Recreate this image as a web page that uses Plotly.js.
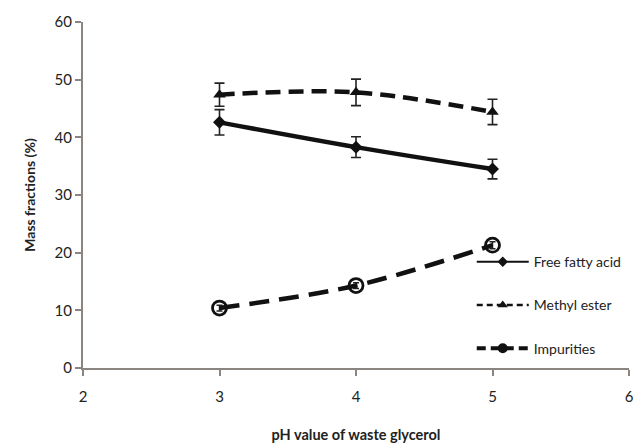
<!DOCTYPE html>
<html><head><meta charset="utf-8">
<script src="https://cdn.plot.ly/plotly-3.0.1.min.js"></script>
<style>html,body{margin:0;padding:0;background:#fff}#chart{width:637px;height:446px}</style>
</head><body><div id="chart"></div>
<script>
const ph = [3, 4, 5];
const ffa = [42.6, 38.3, 34.5];
const ffaErr = [2.2, 1.8, 1.7];
const me = [47.4, 47.8, 44.4];
const meErr = [2.0, 2.3, 2.2];
const imp = [10.4, 14.3, 21.3];
const impErr = [0.5, 0.5, 0.6];
const names = ['Free fatty acid', 'Methyl ester', 'Impurities'];

const C = '#111';
const traces = [
  {x: ph, y: ffa, name: names[0], mode: 'lines+markers', showlegend: false,
   line: {color: C, width: 4.5, shape: 'spline'},
   marker: {symbol: 'diamond', size: 10, color: C},
   error_y: {type: 'data', array: ffaErr, visible: true, color: '#222', thickness: 1.6, width: 5}},
  {x: ph, y: me, name: names[1], mode: 'lines+markers', showlegend: false,
   line: {color: C, width: 4.5, dash: '15px,8px', shape: 'spline'},
   marker: {symbol: 'triangle-up', size: 11, color: C},
   error_y: {type: 'data', array: meErr, visible: true, color: '#222', thickness: 1.6, width: 5}},
  {x: ph, y: imp, name: names[2], mode: 'lines+markers', showlegend: false,
   line: {color: C, width: 4.5, dash: '20px,10px', shape: 'spline'},
   marker: {symbol: 'circle-open', size: 14, color: C, line: {width: 2.8, color: C}},
   error_y: {type: 'data', array: impErr, visible: true, color: '#222', thickness: 1.5, width: 3}},
  // legend entries (no data drawn)
  {x: [null], y: [null], name: names[0], mode: 'lines+markers', legendgroup: 'a',
   line: {color: C, width: 2}, marker: {symbol: 'diamond', size: 8, color: C}},
  {x: [null], y: [null], name: names[1], mode: 'lines+markers', legendgroup: 'b',
   line: {color: C, width: 2.5, dash: '6px,4px'}, marker: {symbol: 'triangle-up', size: 9, color: C}},
  {x: [null], y: [null], name: names[2], mode: 'lines+markers', legendgroup: 'c',
   line: {color: C, width: 4, dash: '9px,5px'}, marker: {symbol: 'circle', size: 10, color: C}}
];

const layout = {
  width: 637, height: 446,
  margin: {l: 83, r: 8, t: 22, b: 78},
  paper_bgcolor: '#fff', plot_bgcolor: '#fff',
  font: {family: 'Lato, "Open Sans", sans-serif', color: '#222', size: 14},
  showlegend: true,
  legend: {x: 0.712, y: 0.352, xanchor: 'left', yanchor: 'top', bgcolor: 'rgba(0,0,0,0)',
           font: {size: 14, color: '#222'}, tracegroupgap: 22, itemwidth: 52},
  xaxis: {range: [2, 6], dtick: 1, tick0: 2, showgrid: false, zeroline: false,
          showline: true, linecolor: '#8a8580', linewidth: 2,
          ticks: 'outside', ticklen: 6, tickcolor: '#8a8580', tickwidth: 2,
          tickfont: {size: 15, color: '#222'}, ticklabelstandoff: 8,
          title: {text: '<b>pH value of waste glycerol</b>', font: {size: 14.5, color: '#222'}, standoff: 26}},
  yaxis: {range: [0, 60], dtick: 10, showgrid: false, zeroline: false,
          showline: true, linecolor: '#8a8580', linewidth: 2,
          ticks: 'outside', ticklen: 6, tickcolor: '#8a8580', tickwidth: 2,
          tickfont: {size: 15, color: '#222'},
          title: {text: '<b>Mass fractions (%)</b>', font: {size: 14, color: '#222'}, standoff: 16}}
};
Plotly.newPlot('chart', traces, layout, {displayModeBar: false, staticPlot: true});
</script></body></html>
